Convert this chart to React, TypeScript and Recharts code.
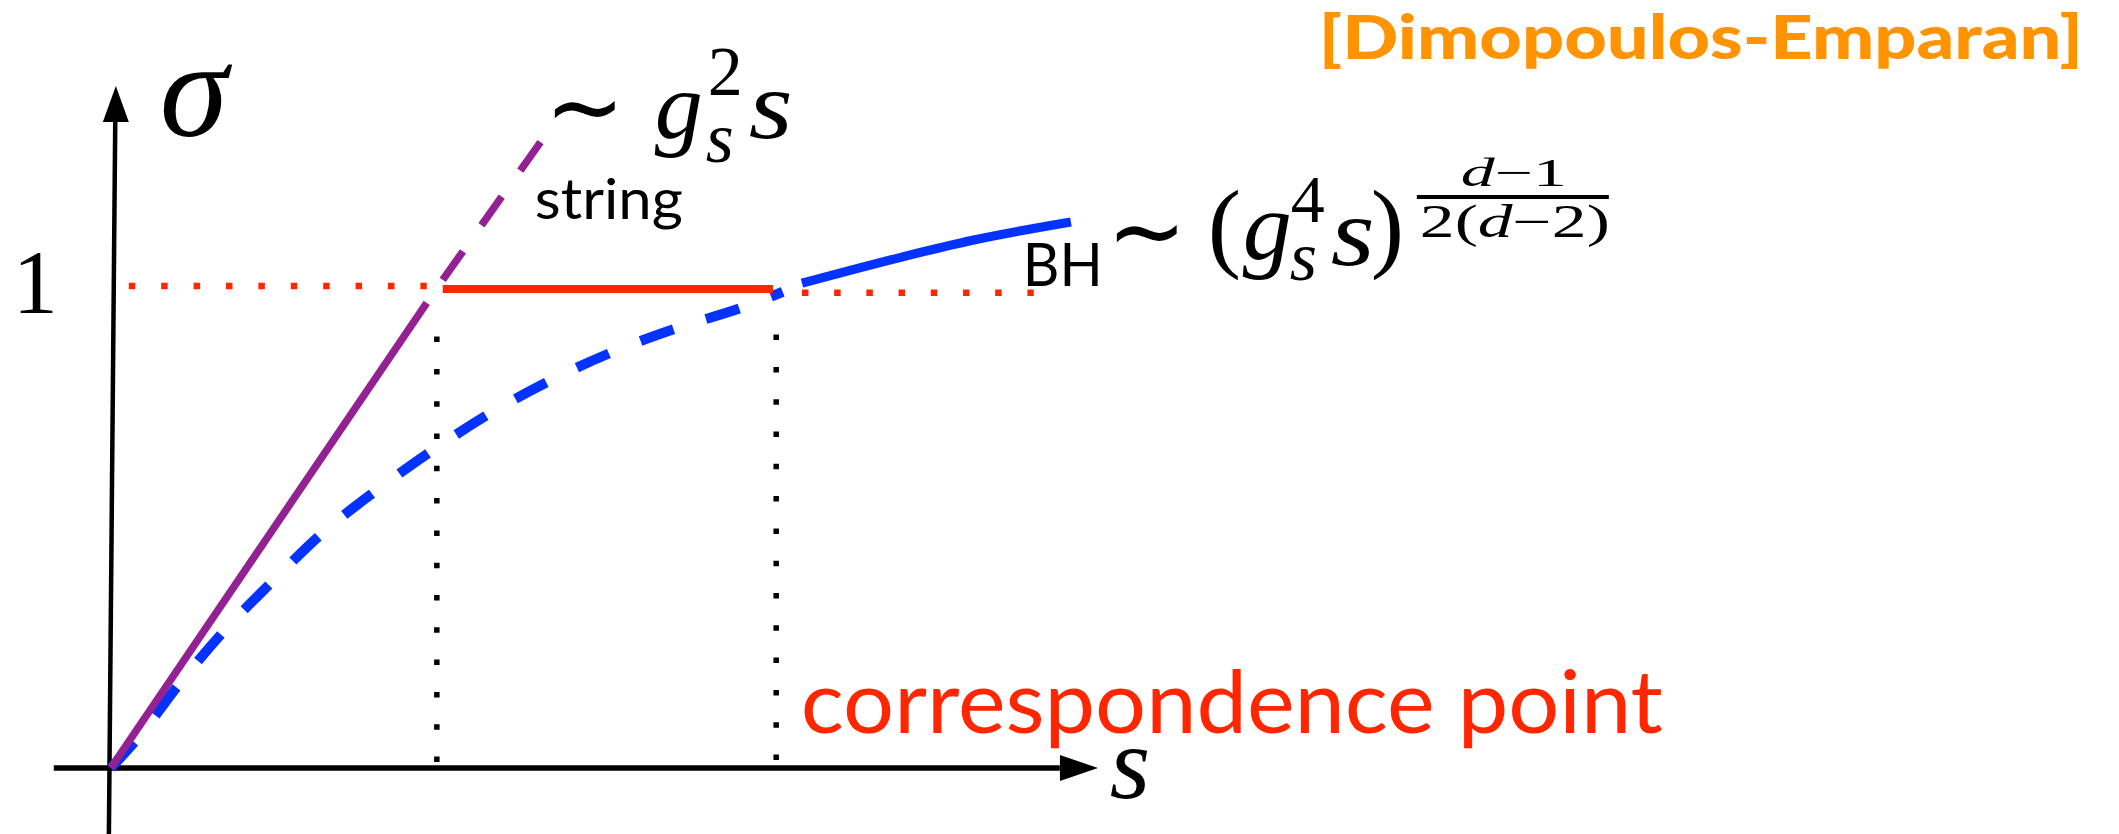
import React from 'react';
import {
  ComposedChart,
  Line,
  XAxis,
  YAxis,
  ReferenceLine,
  ReferenceDot,
} from 'recharts';

const WIDTH = 2119;
const HEIGHT = 834;

// axis extents (s horizontally, sigma vertically)
const sDomain: [number, number] = [-0.34, 6.16];
const sigmaDomain: [number, number] = [-0.1375, 1.6];

// string regime: sigma ~ g_s^2 s
const stringSolid = [
  { s: 0, sigma: 0 },
  { s: 0.969, sigma: 0.969 },
];
const stringDashed = [
  { s: 1.018, sigma: 1.017 },
  { s: 1.318, sigma: 1.304 },
];

// black-hole branch continued below the correspondence point
const bhDashed = [
  { s: 0, sigma: 0 },
  { s: 0.083, sigma: 0.0625 },
  { s: 0.212, sigma: 0.177 },
  { s: 0.35, sigma: 0.2875 },
  { s: 0.494, sigma: 0.3875 },
  { s: 0.65, sigma: 0.49 },
  { s: 0.816, sigma: 0.579 },
  { s: 0.988, sigma: 0.6625 },
  { s: 1.166, sigma: 0.74 },
  { s: 1.35, sigma: 0.808 },
  { s: 1.54, sigma: 0.867 },
  { s: 1.739, sigma: 0.917 },
  { s: 1.939, sigma: 0.96 },
  { s: 2.061, sigma: 0.992 },
];

// black-hole regime: sigma ~ (g_s^4 s)^((d-1)/(2(d-2)))
const bhSolid = [
  { s: 2.12, sigma: 1.01 },
  { s: 2.429, sigma: 1.065 },
  { s: 2.647, sigma: 1.1 },
  { s: 2.945, sigma: 1.1375 },
];

// sigma = 1 level
const unitLeft = [
  { s: 0.055, sigma: 1.004 },
  { s: 0.969, sigma: 1.004 },
];
const unitPlateau = [
  { s: 1.018, sigma: 0.998 },
  { s: 2.031, sigma: 0.998 },
];
const unitRight = [
  { s: 2.12, sigma: 0.99 },
  { s: 2.831, sigma: 0.99 },
];

// vertical markers: string/1 crossover and the correspondence point
const crossoverMark = [
  { s: 1.0, sigma: 0.0125 },
  { s: 1.0, sigma: 0.952 },
];
const correspondenceMark = [
  { s: 2.041, sigma: 0.0167 },
  { s: 2.041, sigma: 0.954 },
];

// axis lines and arrow tips
const sAxisLine = [
  { x: -0.175, y: 0 },
  { x: 2.911, y: 0 },
];
const sigmaAxisLine = [
  { x: -0.006, y: -0.1375 },
  { x: 0.0135, y: 1.346 },
];
const sAxisTip = { s: 3.028, sigma: 0 };
const sigmaAxisTip = { s: 0.0153, sigma: 1.421 };

const RED = '#ff2600';
const PURPLE = '#942192';
const BLUE = '#0433ff';
const ORANGE = '#ff9300';

const SERIF = '"Liberation Serif", "DejaVu Serif", serif';
const SIM = '"DejaVu Sans", "DejaVu Serif", sans-serif';
const SANS = 'Lato, "Noto Sans", sans-serif';

type Span = { t: string; italic?: boolean };
type Piece = {
  t?: string;
  spans?: Span[];
  dx: number;
  dy: number;
  size: number;
  italic?: boolean;
  family?: string;
  len?: number;
  weight?: number | string;
};

type Bar = { dx: number; dy: number; w: number; h: number };

function textGroup(list: Piece[], fill = '#000', bars: Bar[] = []) {
  return (props: any) => (
    <g transform={`translate(${props.cx},${props.cy})`}>
      {list.map((p, i) => (
        <text
          key={i}
          x={p.dx}
          y={p.dy}
          fontSize={p.size}
          fontFamily={p.family ?? SERIF}
          fontStyle={p.italic ? 'italic' : 'normal'}
          fontWeight={p.weight ?? 400}
          fill={fill}
          textLength={p.len}
          lengthAdjust={p.len ? 'spacingAndGlyphs' : undefined}
        >
          {p.spans
            ? p.spans.map((sp, j) => (
                <tspan key={j} fontStyle={sp.italic ? 'italic' : 'normal'}>
                  {sp.t}
                </tspan>
              ))
            : p.t}
        </text>
      ))}
      {bars.map((b, i) => (
        <rect key={`b${i}`} x={b.dx} y={b.dy} width={b.w} height={b.h} fill={fill} />
      ))}
    </g>
  );
}

const rightArrow = (props: any) => {
  const { cx, cy } = props;
  return (
    <polygon
      points={`${cx},${cy} ${cx - 38},${cy - 13} ${cx - 38},${cy + 13}`}
      fill="#000"
    />
  );
};

const upArrow = (props: any) => {
  const { cx, cy } = props;
  return (
    <polygon
      points={`${cx},${cy} ${cx - 13},${cy + 36} ${cx + 13},${cy + 36}`}
      fill="#000"
    />
  );
};

const stringFormula: Piece[] = [
  { t: '\u223C', dx: -6, dy: 3, size: 100, family: SIM, len: 80 },
  { t: 'g', dx: 104, dy: 0, size: 96, italic: true },
  { t: '2', dx: 157, dy: -43, size: 70 },
  { t: 's', dx: 155, dy: 24, size: 72, italic: true },
  { t: 's', dx: 198, dy: 0, size: 98, italic: true, len: 44 },
];

const bhFormula: Piece[] = [
  { t: '\u223C', dx: -6, dy: 0, size: 100, family: SIM, len: 80 },
  { t: '(', dx: 95, dy: -6, size: 100 },
  { t: 'g', dx: 130, dy: -6, size: 98, italic: true },
  { t: '4', dx: 178, dy: -43, size: 68 },
  { t: 's', dx: 177, dy: 15, size: 70, italic: true },
  { t: 's', dx: 218, dy: 0, size: 98, italic: true, len: 44 },
  { t: ')', dx: 258, dy: -6, size: 100 },
  {
    spans: [{ t: 'd', italic: true }, { t: '\u22121' }],
    dx: 348,
    dy: -79,
    size: 40,
    len: 106,
  },
  {
    spans: [{ t: '2(' }, { t: 'd', italic: true }, { t: '\u22122)' }],
    dx: 307,
    dy: -28,
    size: 46,
    len: 190,
  },
];
const bhFractionBar: Bar[] = [{ dx: 304, dy: -70, w: 192, h: 4 }];

const noDot = { dot: false as const, activeDot: false as const };

export default function App() {
  return (
    <div style={{ position: 'absolute', left: 0, top: 0, width: WIDTH, height: HEIGHT, background: '#fff' }}>
      <ComposedChart
        width={WIDTH}
        height={HEIGHT}
        margin={{ top: 0, right: 0, bottom: 0, left: 0 }}
      >
        <XAxis type="number" dataKey="s" domain={sDomain} hide allowDataOverflow />
        <YAxis type="number" domain={sigmaDomain} hide allowDataOverflow />

        {/* axes */}
        <ReferenceLine segment={sAxisLine} stroke="#000" strokeWidth={5.5} ifOverflow="visible" />
        <ReferenceLine segment={sigmaAxisLine} stroke="#000" strokeWidth={4.5} ifOverflow="visible" />
        <ReferenceDot x={sAxisTip.s} y={sAxisTip.sigma} r={0} shape={rightArrow} ifOverflow="visible" />
        <ReferenceDot x={sigmaAxisTip.s} y={sigmaAxisTip.sigma} r={0} shape={upArrow} ifOverflow="visible" />

        {/* sigma = 1 */}
        <Line data={unitLeft} dataKey="sigma" type="linear" stroke={RED} strokeWidth={6.5} strokeDasharray="6.5 25.9" isAnimationActive={false} {...noDot} />
        <Line data={unitRight} dataKey="sigma" type="linear" stroke={RED} strokeWidth={6.5} strokeDasharray="6.5 25.7" isAnimationActive={false} {...noDot} />

        {/* vertical markers */}
        <Line data={crossoverMark} dataKey="sigma" type="linear" stroke="#000" strokeWidth={5.5} strokeDasharray="5.5 26.8" isAnimationActive={false} {...noDot} />
        <Line data={correspondenceMark} dataKey="sigma" type="linear" stroke="#000" strokeWidth={5.5} strokeDasharray="5.5 26.8" isAnimationActive={false} {...noDot} />

        {/* black hole */}
        <Line data={bhDashed} dataKey="sigma" type="monotone" stroke={BLUE} strokeWidth={10} strokeDasharray="35 34" isAnimationActive={false} {...noDot} />
        <Line data={bhSolid} dataKey="sigma" type="monotone" stroke={BLUE} strokeWidth={9} isAnimationActive={false} {...noDot} />

        {/* string */}
        <Line data={stringSolid} dataKey="sigma" type="linear" stroke={PURPLE} strokeWidth={7.5} isAnimationActive={false} {...noDot} />
        <Line data={stringDashed} dataKey="sigma" type="linear" stroke={PURPLE} strokeWidth={7.5} strokeDasharray="35 32" isAnimationActive={false} {...noDot} />

        <Line data={unitPlateau} dataKey="sigma" type="linear" stroke={RED} strokeWidth={8} isAnimationActive={false} {...noDot} />

        {/* labels */}
        <ReferenceDot x={0.1503} y={1.3167} r={0} ifOverflow="visible"
          shape={textGroup([{ t: '\u03C3', dx: 0, dy: 0, size: 138, italic: true }])} />
        <ReferenceDot x={-0.3098} y={0.9479} r={0} ifOverflow="visible"
          shape={textGroup([{ t: '1', dx: 3, dy: 0, size: 90 }])} />
        <ReferenceDot x={3.064} y={-0.0625} r={0} ifOverflow="visible"
          shape={textGroup([{ t: 's', dx: 0, dy: 0, size: 104, italic: true }])} />
        <ReferenceDot x={1.3497} y={1.3125} r={0} ifOverflow="visible" shape={textGroup(stringFormula)} />
        <ReferenceDot x={1.3006} y={1.1438} r={0} ifOverflow="visible"
          shape={textGroup([{ t: 'string', dx: 0, dy: 0, size: 56, family: SANS, len: 148 }])} />
        <ReferenceDot x={2.7975} y={1.0042} r={0} ifOverflow="visible"
          shape={textGroup([{ t: 'BH', dx: 0, dy: 0, size: 60, family: SANS, len: 80 }])} />
        <ReferenceDot x={3.0736} y={1.0479} r={0} ifOverflow="visible" shape={textGroup(bhFormula, '#000', bhFractionBar)} />
        <ReferenceDot x={2.1166} y={0.0729} r={0} ifOverflow="visible"
          shape={textGroup([{ t: 'correspondence point', dx: 0, dy: 0, size: 88, family: SANS, len: 862 }], RED)} />
        <ReferenceDot x={3.7055} y={1.4771} r={0} ifOverflow="visible"
          shape={textGroup([{ t: '[Dimopoulos-Emparan]', dx: 0, dy: 0, size: 60, family: SANS, weight: 900, len: 764 }], ORANGE)} />
      </ComposedChart>
    </div>
  );
}
